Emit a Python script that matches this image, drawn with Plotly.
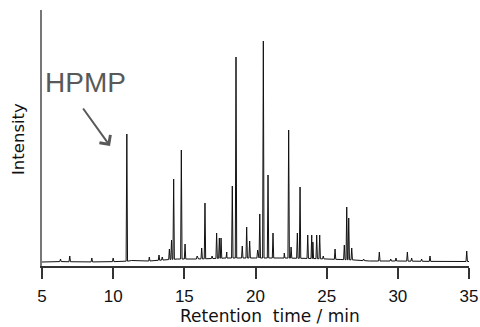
import numpy as np
import plotly.graph_objects as go

# Peak retention times (min) and heights (arbitrary intensity units)
peak_times = [6.3, 6.95, 8.5, 10.0, 10.96, 12.54, 13.22, 13.45, 13.95, 14.1, 14.25,
              14.79, 15.05, 15.9, 16.22, 16.45, 16.95, 17.27, 17.46, 17.58, 17.98,
              18.37, 18.63, 19.07, 19.38, 19.59, 20.15, 20.3, 20.55, 20.88, 21.23,
              22.02, 22.33, 22.5, 22.94, 23.13, 23.67, 23.95, 24.03, 24.3, 24.51,
              24.76, 25.59, 26.24, 26.41, 26.55, 26.76, 27.6, 28.7, 29.5, 29.87,
              30.67, 30.97, 31.67, 32.26, 34.84]
peak_heights = [3, 6, 4, 4, 128, 5, 7, 5, 13, 22, 83,
                112, 18, 6, 14, 59, 6, 29, 24, 24, 10,
                76, 205, 16, 35, 21, 12, 48, 221, 87, 29,
                9, 132, 15, 29, 75, 27, 27, 20, 27, 27,
                6, 13, 17, 55, 44, 14, 3, 10, 3, 4,
                10, 4, 3, 6, 11]

# Baseline level along the run
base_times = [5, 6, 8, 10.8, 11.3, 12.5, 13.5, 14.5, 16, 18, 20, 22, 24, 25, 26, 27, 28, 30, 33, 35]
base_values = [0, 0.5, 0, 0.5, 1.5, 1, 2, 3, 3, 4, 4, 4, 3.5, 3, 2.5, 2, 1, 1, 0.5, 0.5]

tick_vals = [5, 10, 15, 20, 25, 30, 35]

# Build the chromatogram line
pts = list(zip(base_times, base_values))
hw = 0.05
for t, h in zip(peak_times, peak_heights):
    b = float(np.interp(t, base_times, base_values))
    pts += [(t - hw, b), (t, h), (t + hw, b)]
pts.sort(key=lambda p: p[0])
xs = [p[0] for p in pts]
ys = [p[1] for p in pts]

fig = go.Figure()
fig.add_trace(go.Scatter(x=xs, y=ys, mode="lines",
                         line=dict(color="#111111", width=1), hoverinfo="skip"))

fig.update_layout(
    width=480, height=327,
    margin=dict(l=42, r=11, t=10, b=61),
    paper_bgcolor="white", plot_bgcolor="white",
    showlegend=False,
    font=dict(family="Liberation Sans, Arial, sans-serif", color="#111111"),
)
fig.update_xaxes(range=[5, 35], tickvals=tick_vals, ticktext=[str(v) for v in tick_vals],
                 showline=True, linecolor="#333333", linewidth=1.5,
                 ticks="outside", ticklen=11, tickwidth=1.5, tickcolor="#333333",
                 tickfont=dict(size=17, color="#111111"), ticklabelstandoff=3,
                 showgrid=False, zeroline=False, automargin=False)
fig.update_yaxes(range=[-4, 252], showline=True, linecolor="#777777", linewidth=1.5,
                 showticklabels=False, ticks="", showgrid=False, zeroline=False,
                 automargin=False)

fig.add_annotation(text="Retention\u00a0\u00a0time / min", xref="x", x=21.05,
                   yref="paper", y=0, yshift=-61, yanchor="bottom",
                   showarrow=False, borderpad=0,
                   font=dict(size=17, color="#111111", family="DejaVu Sans, sans-serif"))
fig.add_annotation(text="Intensity", xref="paper", x=0, xshift=-24, xanchor="center",
                   yref="paper", y=0.496, yanchor="middle", textangle=-90,
                   showarrow=False,
                   font=dict(size=16.5, color="#111111", family="DejaVu Sans, sans-serif"))
fig.add_annotation(text="HPMP", xref="paper", x=0, xshift=1, xanchor="left",
                   yref="paper", y=(266 - 82) / 256, yanchor="middle",
                   showarrow=False, font=dict(size=28, color="#595959"))
fig.add_annotation(text="", x=9.78, y=116, xref="x", yref="y",
                   ax=-28, ay=-39, showarrow=True, arrowhead=4, arrowsize=1.3,
                   arrowwidth=2, arrowcolor="#595959", standoff=0)

fig.write_html("out.html", config={"displayModeBar": False},
               post_script="document.body.style.margin='0';")
